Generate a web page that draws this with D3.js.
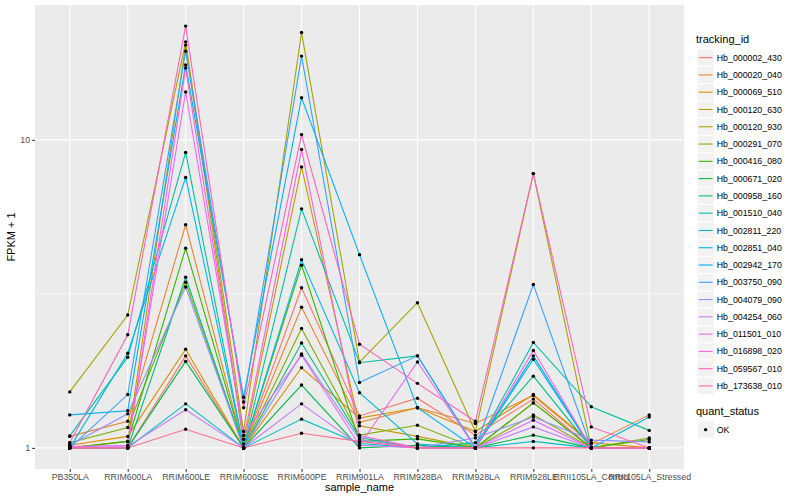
<!DOCTYPE html>
<html>
<head>
<meta charset="utf-8">
<script src="https://cdn.jsdelivr.net/npm/d3@7"></script>
<style>
  body { margin: 0; background: #fff; }
  text { font-family: "Liberation Sans", Arial, sans-serif; }
</style>
</head>
<body>
<div id="vis"></div>
<script>
const width = 800;
const height = 500;

// samples on the x axis
const samples = ["PB350LA", "RRIM600LA", "RRIM600LE", "RRIM600SE", "RRIM600PE", "RRIM901LA",
  "RRIM928BA", "RRIM928LA", "RRIM928LE", "RRII105LA_Control", "RRII105LA_Stressed"];

// tracking ids (legend order)
const trackingIds = ["Hb_000002_430", "Hb_000020_040", "Hb_000069_510", "Hb_000120_630", "Hb_000120_930",
  "Hb_000291_070", "Hb_000416_080", "Hb_000671_020", "Hb_000958_160", "Hb_001510_040",
  "Hb_002811_220", "Hb_002851_040", "Hb_002942_170", "Hb_003750_090", "Hb_004079_090",
  "Hb_004254_060", "Hb_011501_010", "Hb_016898_020", "Hb_059567_010", "Hb_173638_010"];

// ggplot hue palette for 20 levels
const colors = ["#F8766D", "#EA8331", "#D89000", "#C09B00", "#A3A500", "#7CAE00", "#39B600", "#00BB4E",
  "#00BF7D", "#00C1A3", "#00BFC4", "#00BAE0", "#00B0F6", "#35A2FF", "#9590FF", "#C77CFF",
  "#E76BF3", "#FA62DB", "#FF62BC", "#FF6C91"];

// FPKM + 1, one row per tracking id, one value per sample
const fpkm = [
  [1.00, 1.00, 1.99, 1.00, 3.31, 1.27, 1.45, 1.10, 1.44, 1.00, 1.00],
  [1.09, 1.22, 5.30, 1.00, 2.86, 1.21, 1.35, 1.20, 1.48, 1.03, 1.28],
  [1.02, 1.09, 2.09, 1.00, 1.82, 1.25, 1.35, 1.13, 1.49, 1.04, 1.00],
  [1.00, 1.05, 20.3, 1.03, 8.17, 1.18, 1.09, 1.00, 1.40, 1.00, 1.00],
  [1.52, 2.70, 20.8, 1.13, 22.3, 1.90, 2.96, 1.13, 7.77, 1.00, 1.00],
  [1.04, 1.165, 3.45, 1.00, 2.44, 1.10, 1.185, 1.00, 1.28, 1.00, 1.077],
  [1.00, 1.05, 4.45, 1.00, 3.92, 1.05, 1.07, 1.00, 1.40, 1.00, 1.065],
  [1.00, 1.00, 1.91, 1.00, 1.60, 1.00, 1.02, 1.00, 1.10, 1.00, 1.00],
  [1.00, 1.00, 3.58, 1.00, 2.19, 1.08, 1.00, 1.04, 1.71, 1.00, 1.00],
  [1.094, 1.97, 9.10, 1.00, 5.97, 1.89, 1.99, 1.00, 2.20, 1.36, 1.14],
  [1.01, 1.00, 1.39, 1.00, 1.24, 1.033, 1.00, 1.00, 1.05, 1.00, 1.00],
  [1.00, 2.03, 7.55, 1.00, 4.08, 1.51, 1.03, 1.00, 1.94, 1.00, 1.00],
  [1.28, 1.32, 17.5, 1.46, 13.7, 4.24, 1.35, 1.00, 1.99, 1.00, 1.26],
  [1.00, 1.49, 19.4, 1.41, 18.7, 1.63, 1.99, 1.00, 3.39, 1.00, 1.00],
  [1.02, 1.29, 3.33, 1.00, 2.02, 1.065, 1.00, 1.077, 1.26, 1.06, 1.046],
  [1.00, 1.01, 1.33, 1.00, 1.39, 1.02, 1.00, 1.00, 1.17, 1.00, 1.00],
  [1.01, 1.02, 14.3, 1.097, 2.00, 1.02, 1.90, 1.00, 1.23, 1.00, 1.00],
  [1.00, 1.00, 17.1, 1.067, 9.30, 1.097, 1.00, 1.00, 2.07, 1.00, 1.00],
  [1.04, 2.33, 23.4, 1.35, 10.4, 2.17, 1.62, 1.22, 7.77, 1.17, 1.00],
  [1.00, 1.00, 1.15, 1.00, 1.116, 1.05, 1.00, 1.00, 1.00, 1.00, 1.00]
];

const yTicks = [1, 10];
const yMinor = [Math.pow(10, 0.5)];
const quantLevels = ["OK"];

const panel = { left: 35, right: 684, top: 5, bottom: 469 };

const svg = d3.select("#vis").append("svg")
  .attr("width", width)
  .attr("height", height);

// Scales
const x = d3.scalePoint()
  .domain(samples)
  .range([panel.left, panel.right])
  .padding(0.6);

const allVals = fpkm.flat();
const lmin = Math.log10(d3.min(allVals));
const lmax = Math.log10(d3.max(allVals));
const pad = (lmax - lmin) * 0.05;
const y = d3.scaleLog()
  .domain([Math.pow(10, lmin - pad), Math.pow(10, lmax + pad)])
  .range([panel.bottom, panel.top]);

// Panel background and grid
svg.append("rect")
  .attr("x", panel.left)
  .attr("y", panel.top)
  .attr("width", panel.right - panel.left)
  .attr("height", panel.bottom - panel.top)
  .attr("fill", "#EBEBEB");

svg.append("g").selectAll("line")
  .data(yMinor)
  .enter().append("line")
  .attr("x1", panel.left).attr("x2", panel.right)
  .attr("y1", d => y(d)).attr("y2", d => y(d))
  .attr("stroke", "#fff")
  .attr("stroke-width", 0.55);

svg.append("g").selectAll("line")
  .data(yTicks)
  .enter().append("line")
  .attr("x1", panel.left).attr("x2", panel.right)
  .attr("y1", d => y(d)).attr("y2", d => y(d))
  .attr("stroke", "#fff")
  .attr("stroke-width", 1.1);

svg.append("g").selectAll("line")
  .data(samples)
  .enter().append("line")
  .attr("x1", d => x(d)).attr("x2", d => x(d))
  .attr("y1", panel.top).attr("y2", panel.bottom)
  .attr("stroke", "#fff")
  .attr("stroke-width", 1.1);

// Lines
const series = trackingIds.map((id, i) => ({
  id: id,
  color: colors[i],
  values: samples.map((s, j) => ({ sample: s, value: fpkm[i][j] }))
}));

const line = d3.line()
  .x(d => x(d.sample))
  .y(d => y(d.value));

svg.append("g").selectAll("path")
  .data(series)
  .enter().append("path")
  .attr("d", d => line(d.values))
  .attr("fill", "none")
  .attr("stroke", d => d.color)
  .attr("stroke-width", 1.1);

// Points
svg.append("g").selectAll("circle")
  .data(series.flatMap(d => d.values))
  .enter().append("circle")
  .attr("cx", d => x(d.sample))
  .attr("cy", d => y(d.value))
  .attr("r", 1.7)
  .attr("fill", "#000");

// Axes
const xAxis = d3.axisBottom(x).tickSize(2.75).tickPadding(2.2);
const yAxis = d3.axisLeft(y).tickValues(yTicks).tickFormat(d3.format("d")).tickSize(2.75).tickPadding(2.2);

const gx = svg.append("g")
  .attr("transform", `translate(0,${panel.bottom})`)
  .call(xAxis);
const gy = svg.append("g")
  .attr("transform", `translate(${panel.left},0)`)
  .call(yAxis);

[gx, gy].forEach(g => {
  g.select(".domain").remove();
  g.selectAll(".tick line").attr("stroke", "#333333").attr("stroke-width", 1.07);
  g.selectAll(".tick text")
    .attr("fill", "#4D4D4D")
    .style("font-size", "8.8px")
    .style("font-family", "'Liberation Sans', Arial, sans-serif");
});

// Axis titles
svg.append("text")
  .attr("x", (panel.left + panel.right) / 2)
  .attr("y", 491)
  .attr("text-anchor", "middle")
  .style("font-size", "11px")
  .text("sample_name");

svg.append("text")
  .attr("transform", `translate(15,${(panel.top + panel.bottom) / 2}) rotate(-90)`)
  .attr("text-anchor", "middle")
  .style("font-size", "11px")
  .text("FPKM + 1");

// Legend: tracking_id
const legX = 697;
const keySize = 17.28;
const legend = svg.append("g");

legend.append("text")
  .attr("x", legX - 1)
  .attr("y", 43)
  .style("font-size", "11px")
  .text("tracking_id");

const items = legend.selectAll("g.item")
  .data(series)
  .enter().append("g")
  .attr("class", "item")
  .attr("transform", (d, i) => `translate(${legX},${49 + i * keySize})`);

items.append("rect")
  .attr("width", keySize)
  .attr("height", keySize)
  .attr("fill", "#F2F2F2")
  .attr("stroke", "#fff")
  .attr("stroke-width", 1);

items.append("line")
  .attr("x1", 1.7).attr("x2", keySize - 1.7)
  .attr("y1", keySize / 2).attr("y2", keySize / 2)
  .attr("stroke", d => d.color)
  .attr("stroke-width", 1.1);

items.append("text")
  .attr("x", keySize + 2.5)
  .attr("y", keySize / 2)
  .attr("dy", "0.35em")
  .style("font-size", "8.8px")
  .text(d => d.id);

// Legend: quant_status
legend.append("text")
  .attr("x", legX - 1)
  .attr("y", 415)
  .style("font-size", "11px")
  .text("quant_status");

const qItems = legend.selectAll("g.qitem")
  .data(quantLevels)
  .enter().append("g")
  .attr("class", "qitem")
  .attr("transform", (d, i) => `translate(${legX},${421 + i * keySize})`);

qItems.append("rect")
  .attr("width", keySize)
  .attr("height", keySize)
  .attr("fill", "#F2F2F2")
  .attr("stroke", "#fff");

qItems.append("circle")
  .attr("cx", keySize / 2)
  .attr("cy", keySize / 2)
  .attr("r", 1.7)
  .attr("fill", "#000");

qItems.append("text")
  .attr("x", keySize + 2.5)
  .attr("y", keySize / 2)
  .attr("dy", "0.35em")
  .style("font-size", "8.8px")
  .text(d => d);
</script>
</body>
</html>
